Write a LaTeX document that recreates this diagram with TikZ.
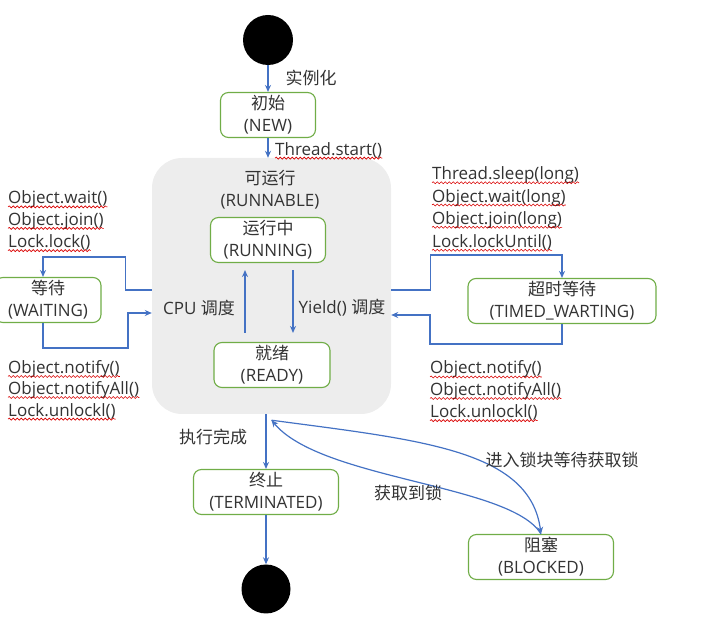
\documentclass[tikz,border=0pt]{standalone}
\usepackage{fontspec}
\setmainfont{Open Sans}
\newfontfamily\cjk{Noto Sans CJK SC}
\usetikzlibrary{arrows.meta,decorations.pathmorphing}
\definecolor{flowblue}{HTML}{4472C4}
\definecolor{boxgreen}{HTML}{70AD47}
\definecolor{runbg}{HTML}{EDEDED}
\definecolor{ink}{HTML}{333333}
\tikzset{
  state/.style={draw=boxgreen, line width=1.1pt, rounded corners=8pt, fill=white,
    align=center, text=ink, inner sep=1pt, minimum height=45pt,
    font=\fontsize{17}{22}\selectfont},
  runbox/.style={fill=runbg, rounded corners=30pt, minimum width=239pt,
    minimum height=256pt, inner sep=0pt},
  dot/.style={circle, fill=black, minimum size=50pt, inner sep=0pt},
  flow/.style={draw=flowblue, line width=1.2pt, -{Stealth[length=7pt,width=6pt]}},
  note/.style={text=ink, font=\fontsize{17}{22}\selectfont},
  call/.style={anchor=west, inner sep=0pt, text=ink, font=\fontsize{17}{20}\selectfont},
  squiggle/.style={draw=red!85!black, line width=0.6pt, decorate,
    decoration={snake, amplitude=1pt, segment length=4pt}}
}
\begin{document}
\begin{tikzpicture}[x=1pt,y=-1pt]
\useasboundingbox (0,0) rectangle (716,644);

% runnable area
\node[runbox] (runnable) at (271.5,286) {};
\node[note, align=center] (runtitle) at (270,190) {{\cjk 可运行}\\(RUNNABLE)};

% states
\node[dot] (start) at (268,40) {};
\node[state, minimum width=95pt] (new) at (268,115) {{\cjk 初始}\\(NEW)};
\node[state, minimum width=115pt] (running) at (268,240) {{\cjk 运行中}\\(RUNNING)};
\node[state, minimum width=116pt] (ready) at (272,365) {{\cjk 就绪}\\(READY)};
\node[state, minimum width=106pt] (waiting) at (48,300) {{\cjk 等待}\\(WAITING)};
\node[state, minimum width=188pt] (timed) at (562,301) {{\cjk 超时等待}\\(TIMED\_WARTING)};
\node[state, minimum width=145pt] (terminated) at (266,492) {{\cjk 终止}\\(TERMINATED)};
\node[state, minimum width=145pt] (blocked) at (541,557) {{\cjk 阻塞}\\(BLOCKED)};
\node[dot, minimum size=49pt] (stop) at (266,589) {};

% start
\draw[flow] (start) -- (new);
\node[note] (newlabel) at (311,78) {\cjk 实例化};
\draw[flow] (new) -- (new.south |- runnable.north);
\node[call] (startcall) at (275,150) {Thread.start()};
\draw[squiggle] ([yshift=-3pt]startcall.base west) -- ([yshift=-3pt]startcall.base east);

% running <-> ready
\draw[flow] ([xshift=-27pt,yshift=9pt]ready.north) -- ([xshift=-23pt,yshift=-7pt]running.south);
\draw[flow] ([xshift=25pt,yshift=-7pt]running.south) -- ([xshift=21pt,yshift=9pt]ready.north);
\node[note] (cpu) at (199,308) {CPU {\cjk 调度}};
\node[note] (yield) at (342,308) {Yield() {\cjk 调度}};

% waiting
\draw[flow] ([yshift=-4pt]runnable.west) -| ++(-26,-33) -| ([xshift=-5pt]waiting.north);
\draw[flow] ([xshift=-5pt]waiting.south) |- ++(85,25) |- ([yshift=-27pt]runnable.west);
\foreach \t [count=\i] in {Object.wait(),Object.join(),Lock.lock()}{
  \node[call] (wait\i) at (8,{178+21.5*\i}) {\t};
  \draw[squiggle] ([yshift=-3pt]wait\i.base west) -- ([yshift=-3pt]wait\i.base east);
}
\foreach \t [count=\i] in {Object.notify(),Object.notifyAll(),Lock.unlockl()}{
  \node[call] (wake\i) at (8,{348+21*\i}) {\t};
  \draw[squiggle] ([yshift=-3pt]wake\i.base west) -- ([yshift=-3pt]wake\i.base east);
}

% timed waiting
\draw[flow] ([yshift=-4pt]runnable.east) -| ++(39,-35) -| (timed.north);
\draw[flow] (timed.south) |- ++(-132,20) |- ([yshift=-29pt]runnable.east);
\foreach \t [count=\i] in {Thread.sleep(long),Object.wait(long),Object.join(long),Lock.lockUntil()}{
  \node[call] (sleep\i) at (432,{153+22.3*\i}) {\t};
  \draw[squiggle] ([yshift=-3pt]sleep\i.base west) -- ([yshift=-3pt]sleep\i.base east);
}
\foreach \t [count=\i] in {Object.notify(),Object.notifyAll(),Lock.unlockl()}{
  \node[call] (timeout\i) at (430,{348+21.5*\i}) {\t};
  \draw[squiggle] ([yshift=-3pt]timeout\i.base west) -- ([yshift=-3pt]timeout\i.base east);
}

% end
\draw[flow] (runnable.south -| terminated.north) -- (terminated.north);
\node[note] (donelabel) at (213,437) {\cjk 执行完成};
\draw[flow] (terminated.south) -- (stop);

% blocked
\coordinate (lockpt) at ([yshift=-6pt]runnable.south);
\draw[flow] (lockpt) .. controls +(150,20) and +(-11,-84) .. (blocked.north);
\draw[flow] (blocked.north) .. controls +(-30,-50) and +(50,60) .. (lockpt);
\node[note] (enterlabel) at (562,460) {\cjk 进入锁块等待获取锁};
\node[note] (gotlabel) at (408,493) {\cjk 获取到锁};
\end{tikzpicture}
\end{document}
